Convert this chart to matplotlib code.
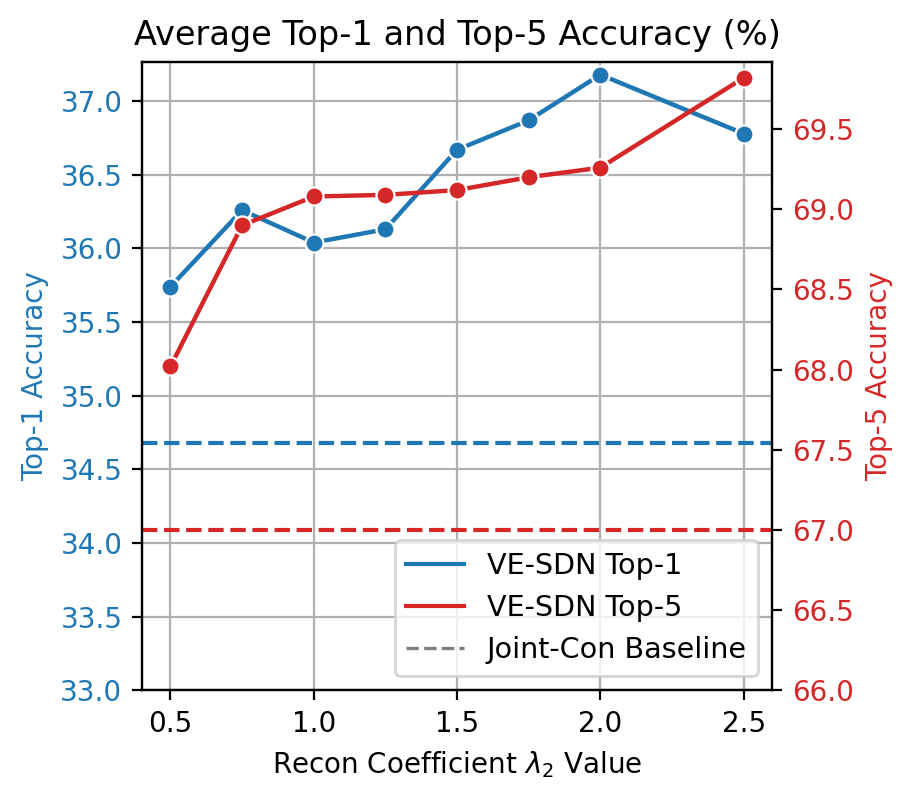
import matplotlib
matplotlib.use('Agg')
import matplotlib.pyplot as plt
from matplotlib.lines import Line2D

recon_coef = [0.5, 0.75, 1.0, 1.25, 1.5, 1.75, 2.0, 2.5]
top1 = [35.74, 36.26, 36.04, 36.13, 36.67, 36.87, 37.18, 36.78]
top5 = [68.02, 68.90, 69.08, 69.09, 69.12, 69.20, 69.26, 69.82]
baseline_top1 = 34.68
baseline_top5 = 67.0

blue = '#1f77b4'
red = '#d62728'

fig, ax1 = plt.subplots(figsize=(4.575, 3.985), dpi=200)
fig.subplots_adjust(left=0.155, right=0.844, top=0.922, bottom=0.134)

ax1.plot(recon_coef, top1, color=blue, lw=1.6, marker='o', ms=6.5,
         mec='white', mew=0.8, zorder=3)
ax1.axhline(baseline_top1, color=blue, ls='--', lw=1.5)
ax1.set_ylim(33.0, 37.265)
ax1.set_xlim(0.4, 2.6)
ax1.set_ylabel('Top-1 Accuracy', color=blue)
ax1.tick_params(axis='y', labelcolor=blue, color='black')
ax1.set_xlabel(r'Recon Coefficient $\lambda_2$ Value')
ax1.grid(True, color='#b0b0b0', lw=0.8)

ax2 = ax1.twinx()
ax2.plot(recon_coef, top5, color=red, lw=1.6, marker='o', ms=6.5,
         mec='white', mew=0.8, zorder=3)
ax2.axhline(baseline_top5, color=red, ls='--', lw=1.5)
ax2.set_ylim(66.0, 69.918)
ax2.set_ylabel('Top-5 Accuracy', color=red)
ax2.tick_params(axis='y', labelcolor=red)

ax1.set_title('Average Top-1 and Top-5 Accuracy (%)', fontsize=12.1)

handles = [Line2D([], [], color=blue, lw=1.5),
           Line2D([], [], color=red, lw=1.5),
           Line2D([], [], color='gray', lw=1.2, ls='--')]
ax2.legend(handles, ['VE-SDN Top-1', 'VE-SDN Top-5', 'Joint-Con Baseline'],
           loc='lower right', fontsize=10.3)

fig.savefig('out.png', dpi=200)
